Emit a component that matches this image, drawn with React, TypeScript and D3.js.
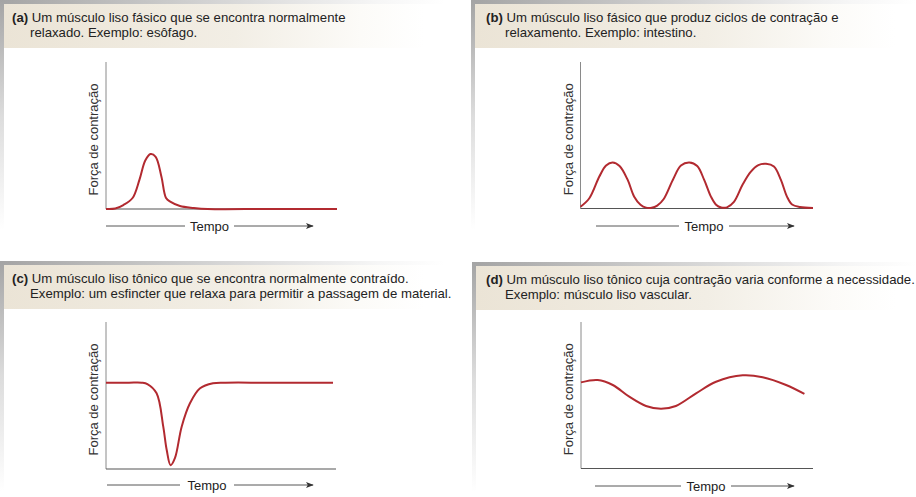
import React from "react";
import * as d3 from "d3";

// curve samples, time and force on a 0-100 scale
const timeA = [0, 4, 7.5, 11.5, 14.5, 17, 19.3, 21.5, 24, 26, 28, 32, 38, 44, 70, 100];
const forceA = [0, 0.3, 2.7, 7.5, 20, 33, 37.4, 35.5, 22, 7.5, 4.8, 2, 0.7, 0, 0, 0];

const timeB = [0, 3.8, 8.1, 11, 13.8, 16.8, 20.3, 23.1, 25.8, 28.2, 30.6, 33, 35.8, 39.7, 43.2, 46.8, 50.2, 53.2, 56.1, 58.3, 60.5, 63, 66, 69.8, 73.2, 76.5, 79.8, 83.2, 86.2, 88.8, 91, 94.4, 100];
const forceB = [1.2, 7, 21.8, 29.3, 31.4, 29, 19.5, 8.1, 2.6, 0.6, 0.5, 2, 6.5, 19.5, 29.3, 31.4, 29, 19.5, 8.1, 2.6, 0.7, 0.8, 4.5, 16.5, 25, 29.6, 30.5, 28.6, 19.5, 8.1, 2.7, 1, 0.3];

const timeC = [0, 10, 15.5, 18, 22, 24.9, 26.4, 28.1, 30, 32.9, 36.5, 40.9, 46.5, 52, 70, 98.7];
const forceC = [58.7, 58.7, 58.7, 57.8, 51.5, 28.8, 12.9, 2.6, 7.5, 28.8, 44.7, 54.9, 58.3, 58.7, 58.7, 58.7];

const timeD = [0, 7.2, 13.7, 20.8, 28, 34.5, 40.9, 49.6, 58.2, 69.7, 78.3, 88.4, 96.3];
const forceD = [58.8, 60.4, 57, 49, 42.7, 40.8, 42.7, 51.3, 59.2, 63.6, 62.3, 57, 50.9];

const titles = [
  ["(a)", "Um músculo liso fásico que se encontra normalmente", "relaxado. Exemplo: esôfago."],
  ["(b)", "Um músculo liso fásico que produz ciclos de contração e", "relaxamento. Exemplo: intestino."],
  ["(c)", "Um músculo liso tônico que se encontra normalmente contraído.", "Exemplo: um esfincter que relaxa para permitir a passagem de material."],
  ["(d)", "Um músculo liso tônico cuja contração varia conforme a necessidade.", "Exemplo: músculo liso vascular."],
];

const yLabel = "Força de contração";
const xLabel = "Tempo";

const FONT = "'Liberation Sans', Arial, Helvetica, sans-serif";
const RED = "#b22a30";

// layout per panel (absolute px)
const panels = [
  { px: 0, py: 0, tx: 12, x0: 106, x1: 337, yTop: 62, yBot: 209, indent: 30, tempo: [106, 185, 234, 313], tY: 226, time: timeA, force: forceA },
  { px: 471, py: 0, tx: 486, x0: 580.5, x1: 813, yTop: 62, yBot: 208.5, indent: 505, tempo: [596, 679, 729, 794], tY: 226, time: timeB, force: forceB },
  { px: 0, py: 261, tx: 12, x0: 106, x1: 336, yTop: 322, yBot: 469, indent: 30, tempo: [107, 180, 234, 313], tY: 485, time: timeC, force: forceC },
  { px: 472, py: 262, tx: 486, x0: 581, x1: 813, yTop: 322, yBot: 468.5, indent: 505, tempo: [595, 681, 731, 794], tY: 486, time: timeD, force: forceD },
];

export default function App() {
  return (
    <svg width={916} height={497} style={{ position: "absolute", left: 0, top: 0, background: "#fff" }} fontFamily={FONT}>
      <defs>
        <linearGradient id="hdr" x1="0" x2="1" y1="0" y2="0">
          <stop offset="0" stopColor="#ebe4d6" />
          <stop offset="0.55" stopColor="#f2eee5" />
          <stop offset="0.85" stopColor="#fcfbf8" />
          <stop offset="1" stopColor="#fff" />
        </linearGradient>
        <linearGradient id="topbar" x1="0" x2="1" y1="0" y2="0">
          <stop offset="0" stopColor="#a4a4a4" />
          <stop offset="0.5" stopColor="#d6d6d6" />
          <stop offset="0.85" stopColor="#f6f6f6" />
          <stop offset="1" stopColor="#fff" />
        </linearGradient>
        <linearGradient id="side" x1="0" x2="0" y1="0" y2="1">
          <stop offset="0" stopColor="#a4a4a4" />
          <stop offset="0.5" stopColor="#dcdcdc" />
          <stop offset="1" stopColor="#fff" />
        </linearGradient>
        <marker id="arr" viewBox="0 0 10 10" refX="9" refY="5" markerWidth="8" markerHeight="8" orient="auto" markerUnits="userSpaceOnUse">
          <path d="M0,1 L10,5 L0,9 L2.5,5 Z" fill="#333" />
        </marker>
      </defs>
      {panels.map((p, i) => {
        const x = d3.scaleLinear().domain([0, 100]).range([p.x0, p.x1]);
        const y = d3.scaleLinear().domain([0, 100]).range([p.yBot, p.yTop]);
        const pts: [number, number][] = p.time.map((t, k) => [t, p.force[k]]);
        const line = d3.line<[number, number]>().x(d => x(d[0])).y(d => y(d[1])).curve(d3.curveCatmullRom.alpha(0.5));
        const [lbl, l1, l2] = titles[i];
        const base = p.py + 22;
        const yMid = (p.yTop + p.yBot) / 2 + 4;
        return (
          <g key={i}>
            <rect x={p.px} y={p.py} width={445} height={4} fill="url(#topbar)" />
            <rect x={p.px} y={p.py} width={4} height={230} fill="url(#side)" />
            <rect x={p.px + 4} y={p.py + 4} width={420} height={44} fill="url(#hdr)" />
            <text x={p.tx} y={base} fontSize={13.2} fill="#222">
              <tspan fontWeight="bold">{lbl}</tspan> {l1}
            </text>
            <text x={p.indent} y={base + 14.5} fontSize={13.2} fill="#222">{l2}</text>
            <text transform={`translate(${p.x0 - 8},${yMid}) rotate(-90)`} textAnchor="middle" fontSize={13} fill="#333">{yLabel}</text>
            <line x1={p.x0} x2={p.x0} y1={p.yTop} y2={p.yBot} stroke="#8a8a8a" strokeWidth={1} />
            <line x1={p.x0} x2={p.x1} y1={p.yBot} y2={p.yBot} stroke="#555" strokeWidth={1.2} />
            <path d={line(pts) || ""} fill="none" stroke={RED} strokeWidth={2} strokeLinejoin="round" />
            <line x1={p.tempo[0]} x2={p.tempo[1]} y1={p.tY} y2={p.tY} stroke="#444" strokeWidth={0.9} />
            <text x={(p.tempo[1] + p.tempo[2]) / 2} y={p.tY + 4.5} textAnchor="middle" fontSize={13} fill="#222">{xLabel}</text>
            <line x1={p.tempo[2]} x2={p.tempo[3]} y1={p.tY} y2={p.tY} stroke="#444" strokeWidth={0.9} markerEnd="url(#arr)" />
          </g>
        );
      })}
    </svg>
  );
}
